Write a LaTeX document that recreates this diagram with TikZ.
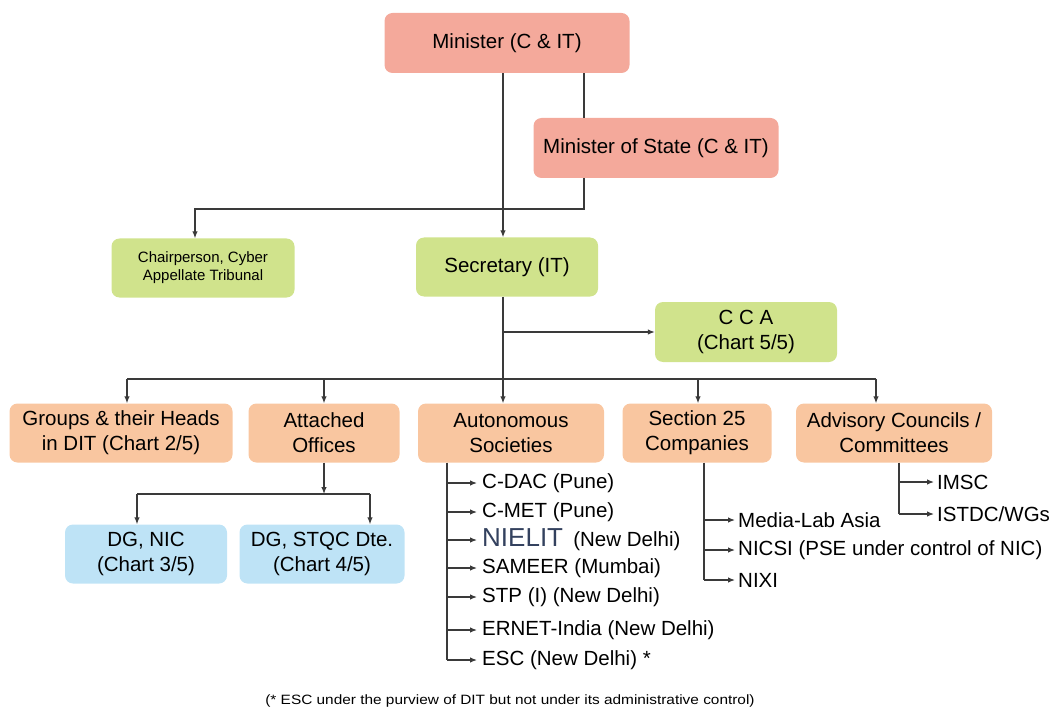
\documentclass[tikz,border=0pt]{standalone}
\usepackage{graphicx}
\usepackage{fontspec}
\setmainfont{Liberation Sans}
\usetikzlibrary{arrows.meta,positioning,calc}
\definecolor{minred}{HTML}{F4A99B}
\definecolor{secgreen}{HTML}{D0E38C}
\definecolor{unitorange}{HTML}{F9C6A0}
\definecolor{dgblue}{HTML}{BEE3F6}
\definecolor{linegray}{HTML}{3A3A3A}
\definecolor{nielitblue}{HTML}{33415E}

\begin{document}
\begin{tikzpicture}[x=1pt,y=-1pt,
    box/.style={rounded corners=8pt,align=center,inner sep=0pt,minimum height=59pt,
      font=\fontsize{20.5}{25}\selectfont},
    redbox/.style={box,fill=minred,minimum width=245pt,minimum height=60pt},
    greenbox/.style={box,fill=secgreen},
    orangebox/.style={box,fill=unitorange},
    bluebox/.style={box,fill=dgblue},
    conn/.style={draw=linegray,line width=1.2pt},
    arr/.style={conn,-{Latex[length=7pt,width=5.5pt]}},
    item/.style={anchor=west,inner sep=0pt,font=\fontsize{20.5}{24}\selectfont}]

  \useasboundingbox (0,0) rectangle (1051,711);

  %%%% Top level %%%%
  \node[redbox] (min) at (507,43) {Minister (C \& IT)};
  \node[redbox] (mos) at (656,148) {Minister of State (C \& IT)};

  \node[greenbox,minimum width=183pt,font=\fontsize{15}{18}\selectfont] (chair) at (203,268)
    {Chairperson, Cyber\\Appellate Tribunal};
  \node[greenbox,minimum width=182pt] (sec) at (507,267) {Secretary (IT)};
  \node[greenbox,minimum width=182pt,minimum height=60pt] (cca) at (746,332) {C C A\\(Chart 5/5)};

  %%%% Second row %%%%
  \node[orangebox,minimum width=223pt] (grp) at (121,433) {Groups \& their Heads\\in DIT (Chart 2/5)};
  \node[orangebox,minimum width=151pt] (att) at (324,433) {Attached\\Offices};
  \node[orangebox,minimum width=186pt] (aut) at (511,433) {Autonomous\\Societies};
  \node[orangebox,minimum width=149pt] (sct) at (697,433) {Section 25\\Companies};
  \node[orangebox,minimum width=196pt] (adv) at (894,433) {Advisory Councils /\\Committees};

  \node[bluebox,minimum width=162pt] (nic) at (146,554) {DG, NIC\\(Chart 3/5)};
  \node[bluebox,minimum width=165pt] (stqc) at (322,554) {DG, STQC Dte.\\(Chart 4/5)};

  %% x positions of the vertical lines
  \coordinate (spine) at (503,0);
  \coordinate (mostap) at (584,0);
  \coordinate (chairbus) at (195,209);
  \coordinate (bus) at (0,379);
  \coordinate (attbus) at (0,494);
  \coordinate (nictap) at (137,0);
  \coordinate (stqctap) at (370,0);

  %% Minister -> Secretary, Minister -> MoS -> Chairperson
  \draw[arr] (min.south -| spine) -- (sec.north -| spine);
  \draw[conn] (min.south -| mostap) -- (mos.north -| mostap);
  \draw[arr] (mos.south -| mostap) |- (chairbus) -- (chair.north -| chairbus);

  %% Secretary -> CCA and the row below
  \draw[arr] (sec.south -| spine) -- (aut.north -| spine);
  \draw[arr] (cca.west -| spine) -- (cca.west);
  \draw[conn] ([xshift=6pt]grp.north |- bus) -- ([xshift=-18pt]adv.north |- bus);
  \foreach \n/\dx in {grp/6,att/0,sct/1,adv/-18}{
    \draw[arr] ([xshift=\dx pt]\n.north |- bus) -- ([xshift=\dx pt]\n.north);
  }

  %% Attached offices
  \draw[arr] (att.south) -- (att.south |- attbus);
  \draw[conn] (nictap |- attbus) -- (stqctap |- attbus);
  \draw[arr] (nictap |- attbus) -- (nictap |- nic.north);
  \draw[arr] (stqctap |- attbus) -- (stqctap |- stqc.north);

  %%%% Autonomous societies %%%%
  \coordinate (autspine) at (447,0);
  \foreach \y/\t [count=\i] in {483/C-DAC (Pune),512/C-MET (Pune),
      540/{{\fontsize{26}{26}\selectfont\color{nielitblue}NIELIT}\enspace(New Delhi)},
      568/SAMEER (Mumbai),597/STP (I) (New Delhi),630/ERNET-India (New Delhi),660/ESC (New Delhi) *}{
    \node[item] (aut\i) at (482,\y) {\t};
    \draw[arr] (autspine |- aut\i.west) -- ([xshift=-5pt]aut\i.west);
  }
  \draw[conn] (aut.south -| autspine) -- (autspine |- aut7.west);

  %%%% Section 25 companies %%%%
  \coordinate (sctspine) at (704,0);
  \foreach \y/\t [count=\i] in {520/Media-Lab Asia,550/NICSI (PSE under control of NIC),580/NIXI}{
    \node[item] (sct\i) at (738,\y) {\t};
    \draw[arr] (sctspine |- sct\i.west) -- ([xshift=-3pt]sct\i.west);
  }
  \draw[conn] (sct.south -| sctspine) -- (sctspine |- sct3.west);

  %%%% Advisory councils %%%%
  \coordinate (advspine) at (899,0);
  \foreach \y/\t [count=\i] in {482/IMSC,514/{ISTDC/WGs}}{
    \node[item] (adv\i) at (937,\y) {\t};
    \draw[arr] (advspine |- adv\i.west) -- ([xshift=-3pt]adv\i.west);
  }
  \draw[conn] (adv.south -| advspine) -- (advspine |- adv2.west);

  %% footnote
  \node[font=\fontsize{13.5}{15}\selectfont,inner sep=0pt] (note) at (510,701)
    {\scalebox{1.14}[1]{(* ESC under the purview of DIT but not under its administrative control)}};

\end{tikzpicture}
\end{document}
